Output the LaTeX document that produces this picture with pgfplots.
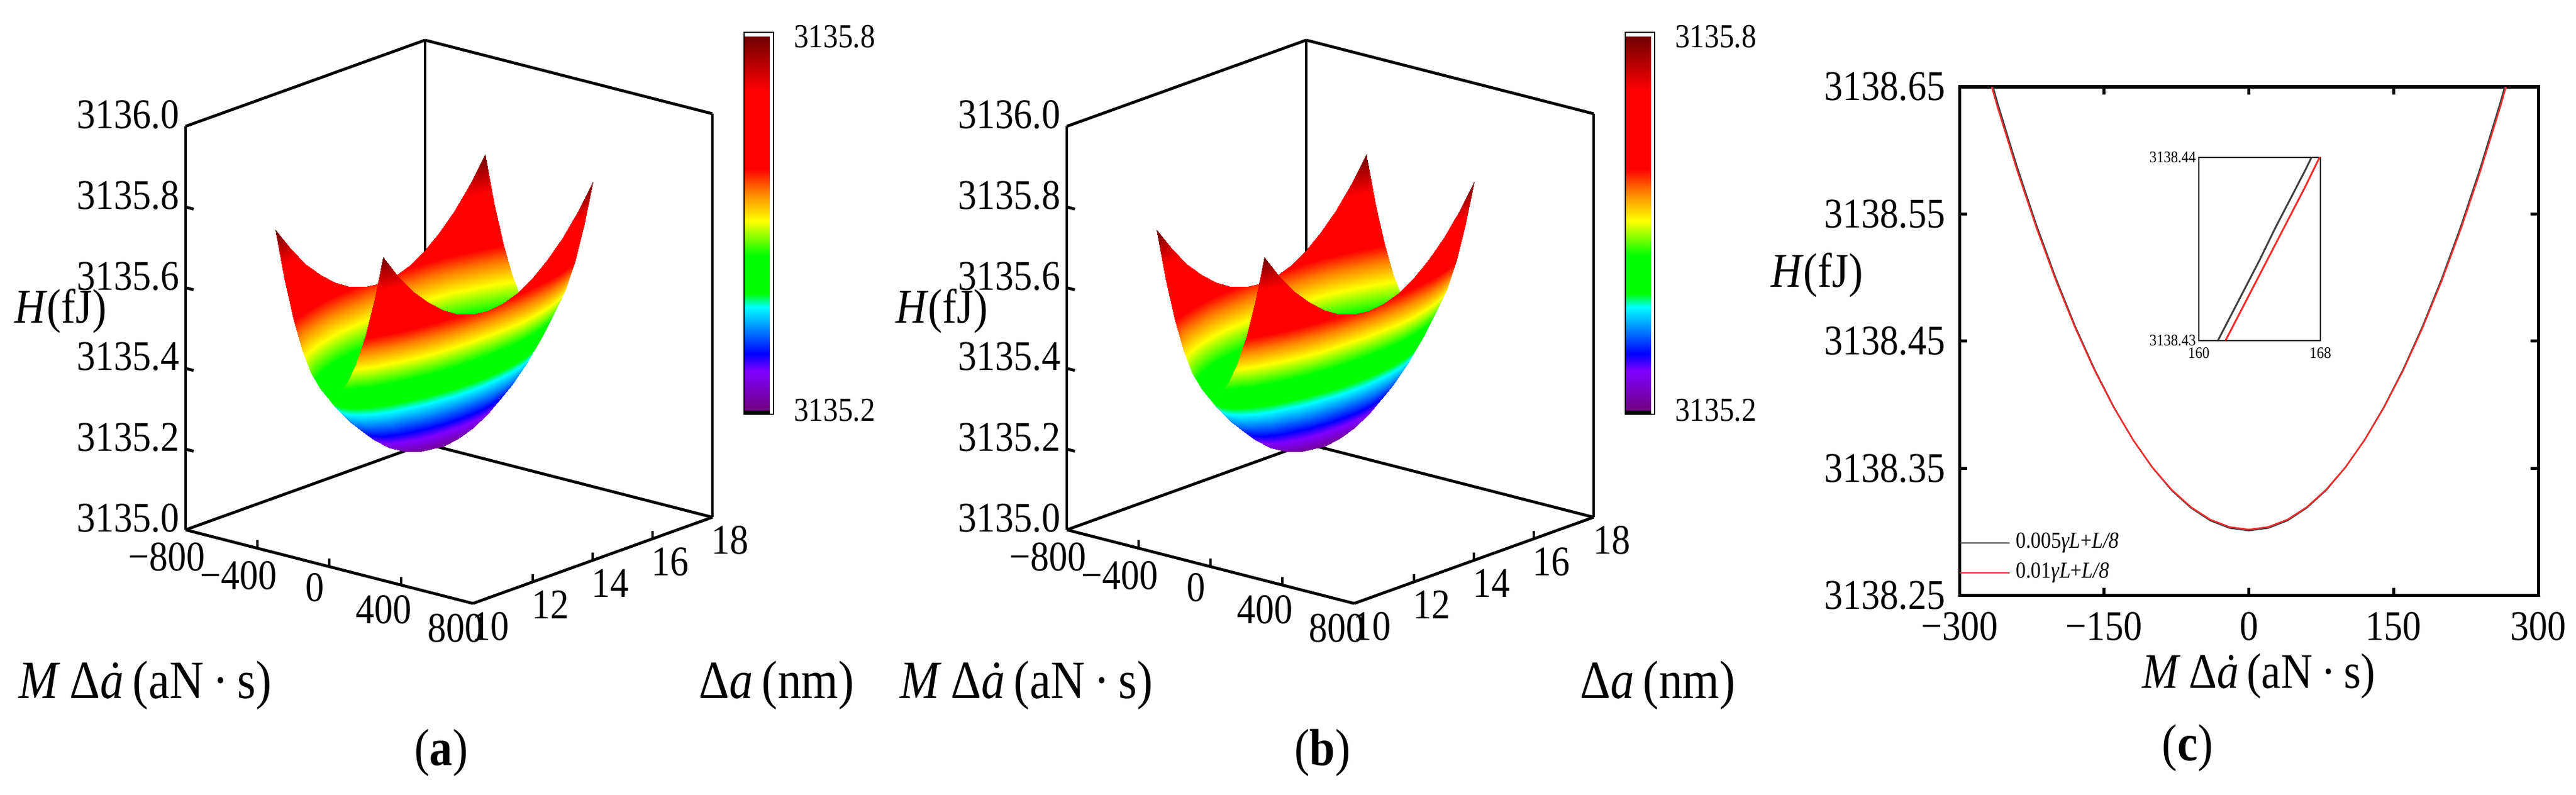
\documentclass[border=0pt]{standalone}
\usepackage{fontspec}
\setmainfont{Liberation Serif}[FakeStretch=0.88]
\usepackage{xfp}
\usepackage{pgfplots}
\pgfplotsset{compat=1.18}
\usepackage{pgfplotstable}
\usetikzlibrary{calc}

\newcommand\tickfont{\fontsize{23.5}{28}\selectfont}
\newcommand\cbfont{\fontsize{18.7}{22}\selectfont}
\newcommand\labfont{\fontsize{30}{36}\selectfont}
\newcommand\labfontc{\fontsize{27.7}{33}\selectfont}
\newcommand\hfont{\fontsize{27}{32}\selectfont}
\newcommand\legfont{\fontsize{12.8}{15}\selectfont}
\newcommand\insfont{\fontsize{9}{11}\selectfont}
\newcommand\panfont{\fontsize{29}{34}\selectfont}

\definecolor{curveblack}{RGB}{64,64,64}
\definecolor{curvered}{RGB}{255,45,45}

\tikzset{tickmk/.style={line width=1.6pt, black}}

\pgfplotsset{
  colormap={originrb}{
    rgb255(0pt)=(0,0,0) rgb255(6.5pt)=(0,0,0)
    rgb255(7pt)=(112,0,128) rgb255(72pt)=(128,0,255)
    rgb255(101pt)=(0,0,255) rgb255(179pt)=(0,255,255)
    rgb255(202pt)=(0,255,0) rgb255(265pt)=(0,255,0)
    rgb255(323pt)=(255,255,0) rgb255(371pt)=(255,128,0)
    rgb255(410pt)=(255,0,0) rgb255(540pt)=(255,0,0)
    rgb255(631pt)=(112,0,0) rgb255(631.5pt)=(255,255,255)
    rgb255(638pt)=(255,255,255)},
  ztrafo/.style={
    z coord trafo/.code={\edef\pgfmathresult{\fpeval{##1-3135}}},
    z coord inv trafo/.code={\edef\pgfmathresult{\fpeval{##1+3135}}}},
  ctrafo/.style={
    y coord trafo/.code={\edef\pgfmathresult{\fpeval{##1-3138}}},
    y coord inv trafo/.code={\edef\pgfmathresult{\fpeval{##1+3138}}}},
  legimg/.style={legend image code/.code={\draw[##1] (0pt,0pt) -- (27.7pt,0pt);}},
}

\pgfplotstableread[row sep=\\]{
x y z\\
-300 10 3135.8000\\ -250 10 3135.6854\\ -200 10 3135.5917\\ -150 10 3135.5188\\ -100 10 3135.4667\\ -50 10 3135.4354\\ 0 10 3135.4250\\ 50 10 3135.4354\\ 100 10 3135.4667\\ 150 10 3135.5188\\ 200 10 3135.5917\\ 250 10 3135.6854\\ 300 10 3135.8000\\
-300 10.5 3135.7403\\ -250 10.5 3135.6257\\ -200 10.5 3135.5320\\ -150 10.5 3135.4591\\ -100 10.5 3135.4070\\ -50 10.5 3135.3757\\ 0 10.5 3135.3653\\ 50 10.5 3135.3757\\ 100 10.5 3135.4070\\ 150 10.5 3135.4591\\ 200 10.5 3135.5320\\ 250 10.5 3135.6257\\ 300 10.5 3135.7403\\
-300 11 3135.6898\\ -250 11 3135.5752\\ -200 11 3135.4815\\ -150 11 3135.4086\\ -100 11 3135.3565\\ -50 11 3135.3252\\ 0 11 3135.3148\\ 50 11 3135.3252\\ 100 11 3135.3565\\ 150 11 3135.4086\\ 200 11 3135.4815\\ 250 11 3135.5752\\ 300 11 3135.6898\\
-300 11.5 3135.6485\\ -250 11.5 3135.5339\\ -200 11.5 3135.4402\\ -150 11.5 3135.3673\\ -100 11.5 3135.3152\\ -50 11.5 3135.2839\\ 0 11.5 3135.2735\\ 50 11.5 3135.2839\\ 100 11.5 3135.3152\\ 150 11.5 3135.3673\\ 200 11.5 3135.4402\\ 250 11.5 3135.5339\\ 300 11.5 3135.6485\\
-300 12 3135.6163\\ -250 12 3135.5017\\ -200 12 3135.4080\\ -150 12 3135.3351\\ -100 12 3135.2830\\ -50 12 3135.2517\\ 0 12 3135.2413\\ 50 12 3135.2517\\ 100 12 3135.2830\\ 150 12 3135.3351\\ 200 12 3135.4080\\ 250 12 3135.5017\\ 300 12 3135.6163\\
-300 12.5 3135.5934\\ -250 12.5 3135.4788\\ -200 12.5 3135.3851\\ -150 12.5 3135.3122\\ -100 12.5 3135.2601\\ -50 12.5 3135.2288\\ 0 12.5 3135.2184\\ 50 12.5 3135.2288\\ 100 12.5 3135.2601\\ 150 12.5 3135.3122\\ 200 12.5 3135.3851\\ 250 12.5 3135.4788\\ 300 12.5 3135.5934\\
-300 13 3135.5796\\ -250 13 3135.4650\\ -200 13 3135.3713\\ -150 13 3135.2984\\ -100 13 3135.2463\\ -50 13 3135.2150\\ 0 13 3135.2046\\ 50 13 3135.2150\\ 100 13 3135.2463\\ 150 13 3135.2984\\ 200 13 3135.3713\\ 250 13 3135.4650\\ 300 13 3135.5796\\
-300 13.5 3135.5750\\ -250 13.5 3135.4604\\ -200 13.5 3135.3667\\ -150 13.5 3135.2938\\ -100 13.5 3135.2417\\ -50 13.5 3135.2104\\ 0 13.5 3135.2000\\ 50 13.5 3135.2104\\ 100 13.5 3135.2417\\ 150 13.5 3135.2938\\ 200 13.5 3135.3667\\ 250 13.5 3135.4604\\ 300 13.5 3135.5750\\
-300 14 3135.5796\\ -250 14 3135.4650\\ -200 14 3135.3713\\ -150 14 3135.2984\\ -100 14 3135.2463\\ -50 14 3135.2150\\ 0 14 3135.2046\\ 50 14 3135.2150\\ 100 14 3135.2463\\ 150 14 3135.2984\\ 200 14 3135.3713\\ 250 14 3135.4650\\ 300 14 3135.5796\\
-300 14.5 3135.5934\\ -250 14.5 3135.4788\\ -200 14.5 3135.3851\\ -150 14.5 3135.3122\\ -100 14.5 3135.2601\\ -50 14.5 3135.2288\\ 0 14.5 3135.2184\\ 50 14.5 3135.2288\\ 100 14.5 3135.2601\\ 150 14.5 3135.3122\\ 200 14.5 3135.3851\\ 250 14.5 3135.4788\\ 300 14.5 3135.5934\\
-300 15 3135.6163\\ -250 15 3135.5017\\ -200 15 3135.4080\\ -150 15 3135.3351\\ -100 15 3135.2830\\ -50 15 3135.2517\\ 0 15 3135.2413\\ 50 15 3135.2517\\ 100 15 3135.2830\\ 150 15 3135.3351\\ 200 15 3135.4080\\ 250 15 3135.5017\\ 300 15 3135.6163\\
-300 15.5 3135.6485\\ -250 15.5 3135.5339\\ -200 15.5 3135.4402\\ -150 15.5 3135.3673\\ -100 15.5 3135.3152\\ -50 15.5 3135.2839\\ 0 15.5 3135.2735\\ 50 15.5 3135.2839\\ 100 15.5 3135.3152\\ 150 15.5 3135.3673\\ 200 15.5 3135.4402\\ 250 15.5 3135.5339\\ 300 15.5 3135.6485\\
-300 16 3135.6898\\ -250 16 3135.5752\\ -200 16 3135.4815\\ -150 16 3135.4086\\ -100 16 3135.3565\\ -50 16 3135.3252\\ 0 16 3135.3148\\ 50 16 3135.3252\\ 100 16 3135.3565\\ 150 16 3135.4086\\ 200 16 3135.4815\\ 250 16 3135.5752\\ 300 16 3135.6898\\
-300 16.5 3135.7403\\ -250 16.5 3135.6257\\ -200 16.5 3135.5320\\ -150 16.5 3135.4591\\ -100 16.5 3135.4070\\ -50 16.5 3135.3757\\ 0 16.5 3135.3653\\ 50 16.5 3135.3757\\ 100 16.5 3135.4070\\ 150 16.5 3135.4591\\ 200 16.5 3135.5320\\ 250 16.5 3135.6257\\ 300 16.5 3135.7403\\
-300 17 3135.8000\\ -250 17 3135.6854\\ -200 17 3135.5917\\ -150 17 3135.5188\\ -100 17 3135.4667\\ -50 17 3135.4354\\ 0 17 3135.4250\\ 50 17 3135.4354\\ 100 17 3135.4667\\ 150 17 3135.5188\\ 200 17 3135.5917\\ 250 17 3135.6854\\ 300 17 3135.8000\\
}\surfdata

\pgfplotstableread[row sep=\\]{
x H\\
-300 3138.7472\\ -280 3138.6897\\ -260 3138.6362\\ -240 3138.5866\\ -220 3138.5410\\ -200 3138.4994\\ -180 3138.4617\\ -160 3138.4280\\ -140 3138.3983\\ -120 3138.3725\\ -100 3138.3507\\ -80 3138.3328\\ -60 3138.3190\\ -40 3138.3090\\ -20 3138.3031\\ 0 3138.3011\\ 20 3138.3031\\ 40 3138.3090\\ 60 3138.3190\\ 80 3138.3328\\ 100 3138.3507\\ 120 3138.3725\\ 140 3138.3983\\ 160 3138.4280\\ 180 3138.4617\\ 200 3138.4994\\ 220 3138.5410\\ 240 3138.5866\\ 260 3138.6362\\ 280 3138.6897\\ 300 3138.7472\\
}\curveA

\pgfplotstableread[row sep=\\]{
x H\\
-300 3138.7423\\ -280 3138.6855\\ -260 3138.6327\\ -240 3138.5838\\ -220 3138.5388\\ -200 3138.4977\\ -180 3138.4605\\ -160 3138.4272\\ -140 3138.3979\\ -120 3138.3724\\ -100 3138.3509\\ -80 3138.3333\\ -60 3138.3196\\ -40 3138.3098\\ -20 3138.3040\\ 0 3138.3020\\ 20 3138.3040\\ 40 3138.3098\\ 60 3138.3196\\ 80 3138.3333\\ 100 3138.3509\\ 120 3138.3724\\ 140 3138.3979\\ 160 3138.4272\\ 180 3138.4605\\ 200 3138.4977\\ 220 3138.5388\\ 240 3138.5838\\ 260 3138.6327\\ 280 3138.6855\\ 300 3138.7423\\
}\curveB

\pgfplotstableread[row sep=\\]{
x H\\
160 3138.4280\\ 161 3138.4296\\ 162 3138.4312\\ 163 3138.4328\\ 164 3138.4344\\ 165 3138.4361\\ 166 3138.4377\\ 167 3138.4393\\ 168 3138.4410\\
}\insetA

\pgfplotstableread[row sep=\\]{
x H\\
160 3138.4272\\ 161 3138.4288\\ 162 3138.4304\\ 163 3138.4320\\ 164 3138.4336\\ 165 3138.4352\\ 166 3138.4368\\ 167 3138.4384\\ 168 3138.4401\\
}\insetB

\pgfplotsset{
  surfaxis/.style={
    ztrafo,
    anchor=south west,
    x={(0.1pt,-0.025625pt)}, y={(16.6667pt,6pt)}, z={(0pt,224.667pt)},
    xmin=-800, xmax=800, ymin=10, ymax=18, zmin=3135, zmax=3136,
    xtick={-800,-400,0,400,800}, xticklabels={−800,−400,0,400,800},
    ytick={10,12,14,16,18}, yticklabels={10,12,14,16,18},
    ztick={3135,3135.2,3135.4,3135.6,3135.8,3136},
    zticklabels={3135.0,3135.2,3135.4,3135.6,3135.8,3136.0},
    major tick length=0pt,
    axis line style={line width=1.6pt, line join=miter},
    tick label style={font=\tickfont},
    zticklabel style={yshift=8pt},
    colormap name=originrb,
    point meta min=3135.19327, point meta max=3135.80673,
    colorbar,
    colorbar style={
      at={($(parent axis.south west)+(302.33pt,318pt)$)}, anchor=north west,
      width=16.33pt, height=212.67pt,
      ytick=\empty, xtick=\empty,
      axis line style={line width=0.7pt},
      extra description/.code={
        \node[anchor=west, inner sep=0pt, font=\cbfont, xshift=11.3pt, yshift=-2.33pt] at (1,1) {3135.8};
        \node[anchor=west, inner sep=0pt, font=\cbfont, xshift=11.3pt, yshift=2.33pt] at (1,0) {3135.2};
      },
    },
  },
}

\newcommand\surfticks{%
  \draw[tickmk] (axis cs:-400,10,3135) -- (axis cs:-400,10,3135.02);
  \draw[tickmk] (axis cs:0,10,3135) -- (axis cs:0,10,3135.02);
  \draw[tickmk] (axis cs:400,10,3135) -- (axis cs:400,10,3135.02);
  \draw[tickmk] (axis cs:800,12,3135) -- (axis cs:800,12,3135.02);
  \draw[tickmk] (axis cs:800,14,3135) -- (axis cs:800,14,3135.02);
  \draw[tickmk] (axis cs:800,16,3135) -- (axis cs:800,16,3135.02);
  \draw[tickmk] (axis cs:-800,10,3135.2) -- (axis cs:-755,10,3135.2);
  \draw[tickmk] (axis cs:-800,10,3135.4) -- (axis cs:-755,10,3135.4);
  \draw[tickmk] (axis cs:-800,10,3135.6) -- (axis cs:-755,10,3135.6);
  \draw[tickmk] (axis cs:-800,10,3135.8) -- (axis cs:-755,10,3135.8);
}

\begin{document}
\begin{tikzpicture}
\path[use as bounding box] (0,0) rectangle (1434.33pt,442.33pt);

% ---------- (a) ----------
\begin{axis}[surfaxis, at={(103.33pt,106.33pt)}]
\addplot3[surf, shader=interp, z buffer=sort, mesh/cols=13, point meta=\thisrow{z}]
  table[x=x, y=y, z=z] {\surfdata};
\surfticks
\end{axis}
\node[font=\labfont] at (81pt,60.67pt) {\textit{M}\,Δ\textit{\.{a}}\,(aN\,·\,s)};
\node[font=\labfont] at (432.33pt,60.67pt) {Δ\textit{a}\,(nm)};
\node[font=\hfont] at (33.67pt,269pt) {\textit{H}(fJ)};
\node[font=\panfont] at (245.67pt,23pt) {(\textbf{a})};

% ---------- (b) ----------
\begin{axis}[surfaxis, at={(594pt,106.33pt)}]
\addplot3[surf, shader=interp, z buffer=sort, mesh/cols=13, point meta=\thisrow{z}]
  table[x=x, y=y, z=z] {\surfdata};
\surfticks
\end{axis}
\node[font=\labfont] at (571.67pt,60.67pt) {\textit{M}\,Δ\textit{\.{a}}\,(aN\,·\,s)};
\node[font=\labfont] at (923pt,60.67pt) {Δ\textit{a}\,(nm)};
\node[font=\hfont] at (524.33pt,269pt) {\textit{H}(fJ)};
\node[font=\panfont] at (736.33pt,23pt) {(\textbf{b})};

% ---------- (c) ----------
\begin{axis}[ctrafo, legimg,
  at={(1091pt,110.67pt)}, anchor=south west,
  scale only axis, width=322.33pt, height=283.33pt,
  xmin=-300, xmax=300, ymin=3138.25, ymax=3138.65,
  xtick={-300,-150,0,150,300}, xticklabels={−300,−150,0,150,300},
  ytick={3138.25,3138.35,3138.45,3138.55,3138.65},
  yticklabels={3138.25,3138.35,3138.45,3138.55,3138.65},
  tick align=inside, major tick length=4.3pt,
  axis line style={line width=1.67pt},
  major tick style={line width=1.67pt, black},
  tick label style={font=\tickfont},
  xticklabel style={anchor=north, inner sep=0pt, yshift=-9pt},
  yticklabel style={anchor=east, inner sep=0pt, xshift=-7.7pt},
  legend style={draw=none, fill=none, at={(0,0.0153)}, anchor=south west,
    inner sep=0pt, outer sep=0pt, font=\legfont, row sep=0pt,
    nodes={text height=9pt, text depth=3pt, inner ysep=2.35pt, inner xsep=3pt}},
  legend cell align=left,
]
\addplot[curveblack, line width=0.8pt] table[x=x, y=H] {\curveA};
\addlegendentry{0.005\textit{γL}+\textit{L/8}}
\addplot[curvered, line width=0.8pt] table[x=x, y=H] {\curveB};
\addlegendentry{0.01\textit{γL}+\textit{L/8}}
\end{axis}

\begin{axis}[ctrafo,
  at={(1224.33pt,252.67pt)}, anchor=south west,
  scale only axis, width=67.67pt, height=102pt,
  xmin=160, xmax=168, ymin=3138.43, ymax=3138.44,
  xtick={160,168}, xticklabels={160,168},
  ytick={3138.43,3138.44}, yticklabels={3138.43,3138.44},
  major tick length=0pt,
  axis line style={line width=0.7pt},
  tick label style={font=\insfont, inner sep=1pt},
  xticklabel style={yshift=-2.5pt},
  yticklabel style={xshift=-0.5pt},
  axis background/.style={fill=white},
]
\addplot[curveblack, line width=1pt] table[x=x, y=H] {\insetA};
\addplot[curvered, line width=1pt] table[x=x, y=H] {\insetB};
\end{axis}

\node[font=\hfont] at (1011.67pt,289pt) {\textit{H}(fJ)};
\node[font=\labfontc] at (1257.67pt,65.67pt) {\textit{M}\,Δ\textit{\.{a}}\,(aN\,·\,s)};
\node[font=\panfont] at (1218pt,25.67pt) {(\textbf{c})};
\end{tikzpicture}
\end{document}
